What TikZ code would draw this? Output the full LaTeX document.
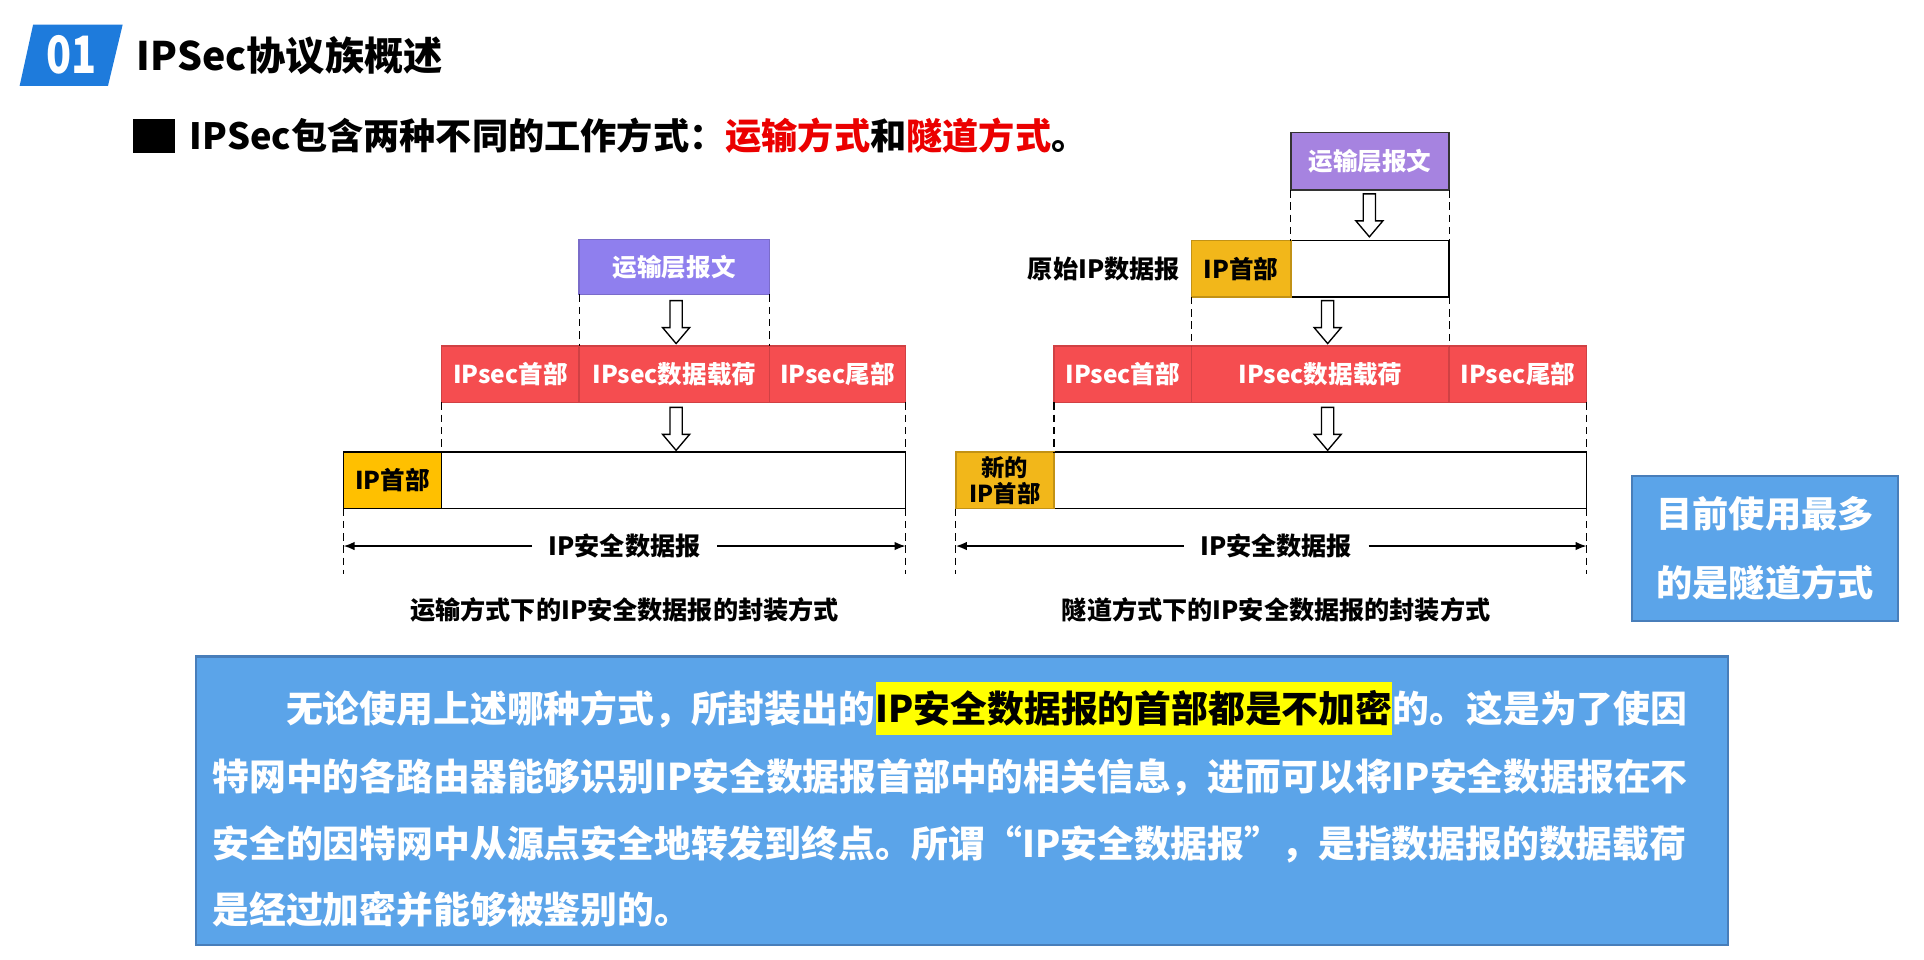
\documentclass[tikz,border=0pt]{standalone}
\usepackage{fontspec}
\usepackage{graphicx}
\setmainfont{Noto Sans CJK SC}
\usetikzlibrary{positioning,arrows.meta}

\definecolor{tagblue}{RGB}{30,123,220}
\definecolor{tplilac}{RGB}{143,127,238}
\definecolor{tplilacR}{RGB}{166,131,224}
\definecolor{secred}{RGB}{245,77,80}
\definecolor{hdryellow}{RGB}{255,192,0}
\definecolor{hdryellowR}{RGB}{242,183,26}
\definecolor{notefill}{RGB}{91,164,233}
\definecolor{noteline}{RGB}{72,126,186}
\definecolor{keyred}{RGB}{235,0,0}
\definecolor{hlyellow}{RGB}{255,255,0}

\tikzset{
  seg/.style={draw, line width=1.2pt, minimum height=46pt, inner sep=0pt, outer sep=0pt,
    font=\bfseries\fontsize{20}{22}\selectfont},
  redseg/.style={seg, fill=secred, draw=secred!85!black, text=white},
  tpseg/.style={seg, fill=tplilac, draw=tplilac!85!black, text=white},
  tpsegR/.style={seg, fill=tplilacR, draw=black!80, text=white},
  yseg/.style={seg, fill=hdryellow, draw=black},
  ysegR/.style={seg, fill=hdryellowR, draw=hdryellowR!80!black},
  wseg/.style={seg, fill=white, draw=black},
  guide/.style={line width=1pt, dash pattern=on 6pt off 4pt},
  span/.style={-{Latex[length=9pt,width=7pt]}, line width=1.3pt, shorten <=10pt},
  lbl/.style={font=\bfseries\fontsize{20.5}{24}\selectfont},
  note/.style={fill=notefill, draw=noteline, line width=1.8pt, text=white},
  bodyline/.style={anchor=base west, inner sep=0pt, text=white,
    font=\bfseries\fontsize{30}{36}\selectfont},
  hollowdown/.pic={
    \draw[fill=white, line width=1.1pt] (-5,0) -- (5,0) -- (5,22) -- (11,22)
      -- (0,35) -- (-11,22) -- (-5,22) -- cycle;
  }
}

\begin{document}
\begin{tikzpicture}[x=1pt, y=-1pt, font=\bfseries]
  \useasboundingbox (0,0) rectangle (1568,782);

  % heading
  \fill[tagblue] (27,20) -- (100,20) -- (88,70) -- (16,70) -- cycle;
  \node[text=white, font=\bfseries\fontsize{42}{48}\selectfont] (tagnum) at (58,45) {\scalebox{0.8}[1]{01}};
  \node[anchor=west, font=\bfseries\fontsize{32}{38}\selectfont] (title) at (108,45) {IPSec协议族概述};
  \node[fill=black, minimum width=35pt, minimum height=28pt, inner sep=0pt] (bullet) at (125.5,111) {};
  \node[right=8pt of bullet, font=\bfseries\fontsize{29.5}{34}\selectfont] (subtitle)
    {IPSec包含两种不同的工作方式：\textcolor{keyred}{运输方式}和\textcolor{keyred}{隧道方式}。};

  % transport mode
  \node[tpseg, minimum width=155pt, minimum height=45pt] (ltp) at (549.5,217.5) {运输层报文};
  \node[redseg, minimum width=155pt] (lpay) at (549.5,305) {IPsec数据载荷};
  \node[redseg, minimum width=112pt, left=0pt of lpay] (lhdr) {IPsec首部};
  \node[redseg, minimum width=111pt, right=0pt of lpay] (ltrl) {IPsec尾部};
  \node[wseg, minimum width=378pt] (ldata) at (549,391.5) {};
  \node[yseg, minimum width=80pt, left=0pt of ldata] (lip) {IP首部};
  \coordinate (lbl) at (280,468);
  \coordinate (lbr) at (738,468);
  \draw[guide] (ltp.south west) -- (lpay.north west);
  \draw[guide] (ltp.south east) -- (lpay.north east);
  \draw[guide] (lhdr.south west) -- (ldata.north west);
  \draw[guide] (ltrl.south east) -- (ldata.north east);
  \draw[guide] (lip.south west) -- (lbl);
  \draw[guide] (ldata.south east) -- (lbr);
  \pic at (551,245) {hollowdown};
  \pic at (551,332) {hollowdown};
  \node[lbl] (llen) at (509,445) {IP安全数据报};
  \coordinate (lendl) at (280,445);
  \coordinate (lendr) at (738,445);
  \draw[span] (llen.west) -- (lendl);
  \draw[span] (llen.east) -- (lendr);
  \node[lbl] (lcap) at (509,497) {运输方式下的IP安全数据报的封装方式};

  % tunnel mode
  \node[tpsegR, minimum width=129pt, minimum height=47pt] (rtp) at (1116.5,131.5) {运输层报文};
  \node[wseg, minimum width=129pt] (rorig) at (1116.5,219) {};
  \node[ysegR, minimum width=81pt, left=0pt of rorig] (rip) {IP首部};
  \node[lbl, left=6pt of rip] (rorigl) {原始IP数据报};
  \node[redseg, minimum width=210pt] (rpay) at (1076,305) {IPsec数据载荷};
  \node[redseg, minimum width=112pt, left=0pt of rpay] (rhdr) {IPsec首部};
  \node[redseg, minimum width=112pt, right=0pt of rpay] (rtrl) {IPsec尾部};
  \node[wseg, minimum width=434pt] (rdata) at (1076,391.5) {};
  \node[ysegR, minimum width=80pt, left=0pt of rdata, align=center,
    font=\bfseries\fontsize{19}{21}\selectfont] (rnip) {新的\\IP首部};
  \coordinate (rbl) at (779,468);
  \coordinate (rbr) at (1293,468);
  \draw[guide] (rtp.south west) -- (rorig.north west);
  \draw[guide] (rtp.south east) -- (rorig.north east);
  \draw[guide] (rip.south west) -- (rpay.north west);
  \draw[guide] (rorig.south east) -- (rpay.north east);
  \draw[guide] (rhdr.south west) -- (rdata.north west);
  \draw[guide] (rtrl.south east) -- (rdata.north east);
  \draw[guide] (rnip.south west) -- (rbl);
  \draw[guide] (rdata.south east) -- (rbr);
  \pic at (1116,158) {hollowdown};
  \pic at (1082,245) {hollowdown};
  \pic at (1082,332) {hollowdown};
  \node[lbl] (rlen) at (1040,445) {IP安全数据报};
  \coordinate (rendl) at (779,445);
  \coordinate (rendr) at (1293,445);
  \draw[span] (rlen.west) -- (rendl);
  \draw[span] (rlen.east) -- (rendr);
  \node[lbl] (rcap) at (1040,497) {隧道方式下的IP安全数据报的封装方式};

  % notes
  \node[note, minimum width=217pt, minimum height=118pt, align=center,
    font=\bfseries\fontsize{29.5}{56}\selectfont] (bestnote) at (1438.5,447) {目前使用最多\\的是隧道方式};
  \node[note, minimum width=1248pt, minimum height=235pt] (mainnote) at (784,652.5) {};
  \node[bodyline] (l1a) at (233,589) {无论使用上述哪种方式，所封装出的};
  \node[bodyline, fill=hlyellow, text=black, inner ysep=7pt] (l1b) at (l1a.base east) {IP安全数据报的首部都是不加密};
  \node[bodyline] (l1c) at (l1b.base east) {的。这是为了使因};
  \node[bodyline] (l2) at (173,644) {特网中的各路由器能够识别IP安全数据报首部中的相关信息，进而可以将IP安全数据报在不};
  \node[bodyline] (l3) at (173,699) {安全的因特网中从源点安全地转发到终点。所谓“IP安全数据报”，是指数据报的数据载荷};
  \node[bodyline] (l4) at (173,753) {是经过加密并能够被鉴别的。};
\end{tikzpicture}
\end{document}
